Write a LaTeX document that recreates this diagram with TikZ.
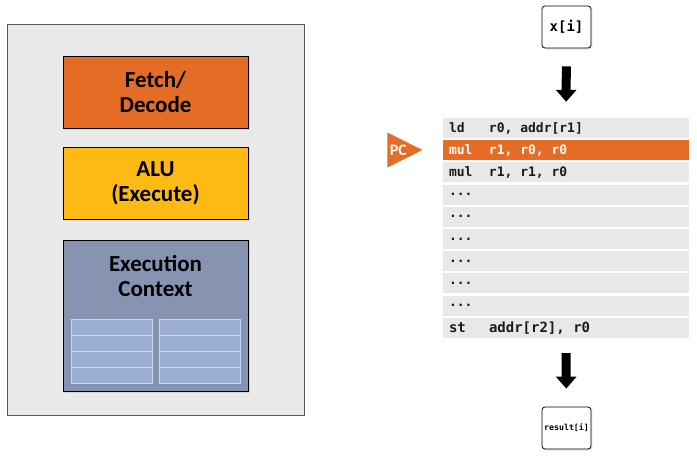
\documentclass[tikz,border=0pt]{standalone}
\usepackage{fontspec}
\setsansfont{Carlito}
\newfontfamily\codefont{DejaVu Sans Mono}
\usetikzlibrary{positioning,arrows.meta,shapes.geometric,shadows}

\definecolor{coregray}{RGB}{234,234,234}
\definecolor{coreline}{RGB}{90,90,90}
\definecolor{fetchorange}{RGB}{228,108,38}
\definecolor{aluyellow}{RGB}{253,185,20}
\definecolor{ctxblue}{RGB}{134,148,178}
\definecolor{regfill}{RGB}{157,176,211}
\definecolor{regline}{RGB}{200,214,240}
\definecolor{rowgray}{RGB}{232,232,232}
\definecolor{codeink}{RGB}{26,26,26}

\newcommand\codegap{\hspace{0.602em}}

\begin{document}
\begin{tikzpicture}[
  x=1pt, y=-1pt,
  unit/.style={rectangle, draw, line width=0.8pt, minimum width=185pt, minimum height=72pt, align=center,
    font=\sffamily\bfseries\fontsize{23}{25}\selectfont, drop shadow={opacity=0.2, shadow xshift=1.5pt, shadow yshift=-1.5pt}},
  reg/.style={rectangle, draw=regline, fill=regfill, line width=0.8pt, minimum width=81pt, minimum height=16pt},
  instr/.style={rectangle, fill=rowgray, minimum width=246pt, minimum height=20pt, inner sep=0, text width=234pt,
    align=left, text=codeink, font=\codefont\bfseries\fontsize{13}{14}\selectfont},
  current/.style={instr, fill=fetchorange, text=white},
  data/.style={rectangle, draw, line width=0.8pt, rounded corners=3pt, fill=white, minimum width=49pt, minimum height=42pt,
    inner sep=0, drop shadow={opacity=0.2, shadow xshift=1.5pt, shadow yshift=-1.5pt}},
  flow/.style={line width=9pt, -{Triangle[length=12pt, width=20pt]}}
]
\useasboundingbox (0,0) rectangle (697,458);

% Core
\node[rectangle, draw=coreline, fill=coregray, line width=0.8pt, minimum width=297pt, minimum height=391pt] (core) at (155.5,219.5) {};
\node[unit, fill=fetchorange] (fetch) at (155.5,92) {Fetch/\\Decode};
\node[unit, fill=aluyellow] (alu) at (155.5,183) {ALU\\(Execute)};
\node[unit, fill=ctxblue, minimum height=151pt] (ctx) at (155.5,315.5) {};
\node[font=\sffamily\bfseries\fontsize{23}{25}\selectfont, align=center, inner sep=0, anchor=north] (ctxtext) at (155.5,255) {Execution\\Context};

% Registers
\foreach \r in {0,...,3} {
  \node[reg] (regL\r) at (111.5,{327+16*\r}) {};
  \node[reg] (regR\r) at (199.5,{327+16*\r}) {};
}

% Instruction stream
\node[data, font=\codefont\bfseries\fontsize{14}{16}\selectfont] (xi) at (566.5,27) {x[i]};

\node[instr] (row0) at (566,128) {\makebox[40pt][l]{ld}r0,\codegap addr[r1]};
\node[current] (row1) at (566,150.2) {\makebox[40pt][l]{mul}r1,\codegap r0,\codegap r0};
\node[instr] (row2) at (566,172.4) {\makebox[40pt][l]{mul}r1,\codegap r1,\codegap r0};
\foreach \i in {3,...,8}
  \node[instr] (row\i) at (566,{128+22.2*\i}) {...};
\node[instr, font=\codefont\bfseries\fontsize{14}{16}\selectfont] (row9) at (566,328) {\makebox[40pt][l]{st}addr[r2],\codegap r0};

\node[isosceles triangle, isosceles triangle stretches, fill=fetchorange, text=white, minimum width=35pt, minimum height=35pt,
  inner sep=0, anchor=apex, font=\sffamily\bfseries\fontsize{16}{18}\selectfont] (pc) at (423,150) {PC};

\node[data, font=\codefont\bfseries\fontsize{8.3}{10}\selectfont] (result) at (566.5,428) {result[i]};

% Data flow
\draw[flow, shorten <=18pt, shorten >=16pt] (xi) -- (row0);
\draw[flow, shorten <=15pt, shorten >=18pt] (row9) -- (result);

\end{tikzpicture}
\end{document}
